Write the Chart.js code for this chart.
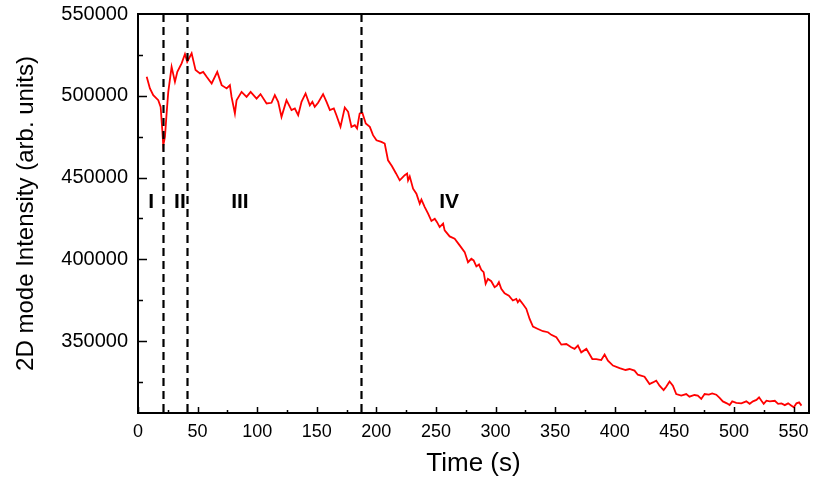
<!DOCTYPE html>
<html>
<head>
<meta charset="utf-8">
<script src="https://cdn.jsdelivr.net/npm/chart.js@4/dist/chart.umd.min.js"></script>
<style>
  html, body { margin: 0; padding: 0; background: #fff; }
  #wrap { width: 813px; height: 481px; }
</style>
</head>
<body>
<div id="wrap"><canvas id="intensityChart" width="813" height="481"></canvas></div>
<script>
// 2D mode intensity vs time
const times = [
  7.3, 10, 12.8, 17, 19, 20.4, 21.2, 22.6, 24, 25.4, 28.2, 31, 33, 36.6, 39.4, 41.3, 45, 48.3,
  52, 54.7, 57.6, 61.8, 66.5, 70.2, 74.4, 77.1, 78.5, 81.3, 82.7, 86.9, 91.1, 94.5, 99.5,
  102.8, 107.9, 112, 114.8, 117.6, 120.4, 124.6, 128.8, 131.6, 134.4, 137.2, 140.6, 144.2,
  146.3, 148.3, 151.1, 155.3, 158.2, 161, 164.3, 166.5, 169.9, 173.5, 176.3, 179.1, 181.9,
  183.8, 186, 188.3, 191.1, 194.5, 197.2, 200.1, 204.2, 207, 209.8, 213, 216.5, 219.6,
  223.8, 225.8, 226.6, 228, 230.8, 233.6, 236.4, 237.8, 240.6, 243.4, 246.2, 249, 250.9,
  253.1, 256, 257.3, 261.5, 265.7, 269.9, 274.1, 276.9, 279.7, 281.6, 283.9, 286.1, 288,
  290, 291.7, 293.6, 296.4, 299.2, 301.1, 302.8, 304.8, 307.6, 311.2, 314.5, 317.4, 318.7,
  320.2, 322.9, 325.8, 328.6, 331.4, 335.6, 339.8, 344, 346.8, 351, 355.2, 359.4, 363.5,
  366.3, 369.1, 371.9, 376.2, 381.2, 384.5, 388.7, 391.5, 394.3, 398.5, 404.1, 409.1,
  412.4, 416.6, 419.4, 425, 429.2, 432, 434.8, 437.6, 441, 443.2, 446, 448.8, 451.6, 455.8,
  460, 462.7, 466.9, 469.7, 472.6, 475.4, 479, 481.8, 485.2, 488, 490.7, 494.1, 496.4,
  498.6, 502, 506.2, 510.4, 513.2, 516, 518.9, 521.1, 523.1, 525, 527.3, 530.1, 534.3,
  537.1, 539.9, 542.7, 545.5, 548.3, 550.3, 552.5, 554.7, 556.7
];
const intensity = [
  511600, 504500, 500400, 497300, 493200, 478900, 469700, 474800, 489200, 502400, 517700, 508500, 514600, 519800, 525500, 520800, 525900, 515700,
  513700, 514600, 511600, 507500, 514600, 506500, 504500, 506500, 499300, 489200, 497300, 502400, 499300, 502400, 498300,
  501000, 495300, 495700, 500400, 496300, 487100, 497300, 491200, 492200, 488100, 496300, 501400, 494200,
  496300, 493200, 495700, 501000, 496300, 491200, 492200, 488100, 481000, 492800, 490200, 481000, 482000,
  480000, 489200, 489500, 483000, 481000, 475900, 472800, 471800, 470800, 460500, 457000, 452500, 448300,
  451400, 452400, 448300, 450700, 443200, 440100, 434000, 436500, 431900, 427900, 423400, 424800, 422700,
  419700, 421800, 417700, 414000, 412600, 408500, 404400, 398200, 400300, 399300, 395600, 396800, 393600,
  392100, 385000, 388000, 386600, 382900, 383900, 386000, 381900, 379200, 377800, 374800, 375800, 373700,
  375200, 372700, 369700, 363500, 358800, 357400, 356000, 355400, 353800, 352300, 347800, 348200, 346200,
  345200, 347200, 343100, 345200, 339000, 339000, 338400, 341700, 338000, 335000, 333500, 332300,
  332900, 331900, 329400, 328200, 323700, 324700, 325800, 322700, 320000, 322100, 325300, 322700, 317600, 316600,
  317600, 316000, 317000, 316600, 314600, 317600, 317200, 318000, 317200, 315200, 313100, 311900, 310900,
  313100, 312200, 311900, 313100, 311600, 313100, 314000, 315600, 313500, 311600, 313500, 313100, 313500,
  311600, 311900, 310800, 311900, 310500, 309500, 311900, 312500, 310500
];

// phase boundaries (dashed lines) and phase names
const boundaries = [21, 41.5, 187];
const phaseNames = ["I", "II", "III", "IV"];
const phaseTimes = [11, 35.2, 85.5, 261];
const phaseLevel = 435000;

const xTicks = [0, 50, 100, 150, 200, 250, 300, 350, 400, 450, 500, 550];
const yTicks = [350000, 400000, 450000, 500000, 550000];

const FONT = "'Liberation Sans', Arial, sans-serif";

const points = times.map((t, i) => ({ x: t, y: intensity[i] }));

// frame, inward tick marks, dashed phase lines and phase names
const decorations = {
  id: "decorations",
  afterDatasetsDraw(chart) {
    const { ctx, chartArea: a, scales: { x, y } } = chart;
    ctx.save();
    ctx.strokeStyle = "#000";

    // dashed boundaries
    ctx.lineWidth = 2.2;
    ctx.setLineDash([8, 5]);
    boundaries.forEach(b => {
      const px = Math.round(x.getPixelForValue(b)) + 0.5;
      ctx.beginPath();
      ctx.moveTo(px, a.top);
      ctx.lineTo(px, a.bottom);
      ctx.stroke();
    });
    ctx.setLineDash([]);

    // tick marks pointing into the plot
    ctx.lineWidth = 1.5;
    ctx.beginPath();
    for (let v = 0; v <= 560; v += 25) {
      const px = Math.round(x.getPixelForValue(v)) + 0.5;
      const len = v % 50 === 0 ? 6 : 3;
      ctx.moveTo(px, a.bottom);
      ctx.lineTo(px, a.bottom - len);
    }
    for (let v = 325000; v < 550000; v += 25000) {
      const py = Math.round(y.getPixelForValue(v)) + 0.5;
      const len = v % 50000 === 0 ? 9 : 5;
      ctx.moveTo(a.left, py);
      ctx.lineTo(a.left + len, py);
    }
    ctx.stroke();

    // frame
    ctx.lineWidth = 2;
    ctx.strokeRect(a.left, a.top, a.right - a.left, a.bottom - a.top);

    // phase names
    ctx.fillStyle = "#000";
    ctx.font = "bold 21px " + FONT;
    ctx.textAlign = "center";
    ctx.textBaseline = "middle";
    phaseNames.forEach((n, i) => {
      ctx.fillText(n, x.getPixelForValue(phaseTimes[i]), y.getPixelForValue(phaseLevel));
    });
    ctx.restore();
  }
};

new Chart(document.getElementById("intensityChart"), {
  type: "line",
  data: {
    datasets: [{
      data: points,
      borderColor: "#ff0000",
      borderWidth: 1.8,
      pointRadius: 0,
      tension: 0,
      fill: false
    }]
  },
  options: {
    responsive: false,
    devicePixelRatio: 1,
    animation: false,
    layout: { padding: { top: 14, right: 4, left: 0, bottom: 0 } },
    plugins: { legend: { display: false }, tooltip: { enabled: false } },
    scales: {
      x: {
        type: "linear",
        min: 0,
        max: 563,
        afterBuildTicks: s => { s.ticks = xTicks.map(v => ({ value: v })); },
        afterFit: s => { s.height = 68; s.paddingLeft = 0; s.paddingRight = 0; },
        grid: { display: false, drawTicks: false, tickLength: 0 },
        border: { display: false },
        ticks: { color: "#000", padding: 8, maxRotation: 0, font: { family: FONT, size: 18 } },
        title: {
          display: true,
          text: "Time (s)",
          color: "#000",
          font: { family: FONT, size: 26 },
          padding: { top: 0, bottom: 2 }
        }
      },
      y: {
        min: 306000,
        max: 550000,
        afterBuildTicks: s => { s.ticks = yTicks.map(v => ({ value: v })); },
        afterFit: s => { s.width = 138; s.paddingTop = 0; s.paddingBottom = 0; },
        grid: { display: false, drawTicks: false, tickLength: 0 },
        border: { display: false },
        ticks: { color: "#000", padding: 10, font: { family: FONT, size: 20 }, callback: v => String(v) },
        title: {
          display: true,
          text: "2D mode Intensity (arb. units)",
          color: "#000",
          font: { family: FONT, size: 24 },
          padding: { top: 12, bottom: 0 }
        }
      }
    }
  },
  plugins: [decorations]
});
</script>
</body>
</html>
